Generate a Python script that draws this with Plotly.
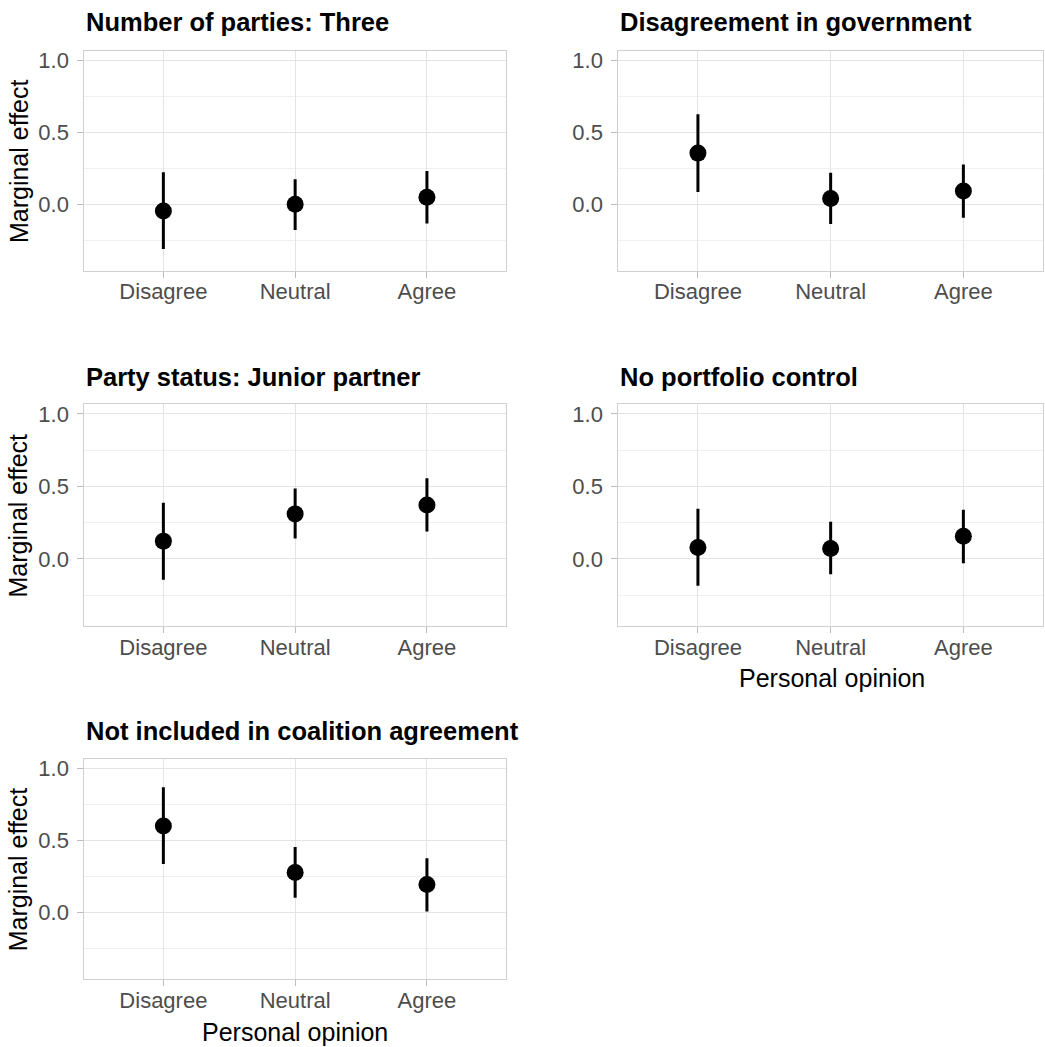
import plotly.graph_objects as go

# Categories on the x axis
opinions = ["Disagree", "Neutral", "Agree"]
opinion_pos = [1, 2, 3]

# Facet titles
panel_titles = [
    "Number of parties: Three",
    "Disagreement in government",
    "Party status: Junior partner",
    "No portfolio control",
    "Not included in coalition agreement",
]

# Estimates with lower / upper confidence bounds per facet
est_parties = [-0.048, -0.002, 0.048]
lo_parties = [-0.313, -0.180, -0.136]
hi_parties = [0.221, 0.173, 0.230]

est_disagree = [0.354, 0.039, 0.090]
lo_disagree = [0.083, -0.139, -0.095]
hi_disagree = [0.625, 0.218, 0.275]

est_junior = [0.122, 0.310, 0.372]
lo_junior = [-0.145, 0.140, 0.188]
hi_junior = [0.386, 0.485, 0.556]

est_portfolio = [0.078, 0.071, 0.156]
lo_portfolio = [-0.186, -0.106, -0.030]
hi_portfolio = [0.345, 0.255, 0.338]

est_coalition = [0.600, 0.277, 0.194]
lo_coalition = [0.335, 0.102, 0.007]
hi_coalition = [0.868, 0.453, 0.376]

y_tickvals = [0.0, 0.5, 1.0]
y_ticktext = ["0.0", "0.5", "1.0"]
y_minor = [-0.25, 0.25, 0.75]

panels = [
    (est_parties, lo_parties, hi_parties),
    (est_disagree, lo_disagree, hi_disagree),
    (est_junior, lo_junior, hi_junior),
    (est_portfolio, lo_portfolio, hi_portfolio),
    (est_coalition, lo_coalition, hi_coalition),
]

W, H = 1045, 1047
FONT = "Liberation Sans"

# Panel boxes in pixels: (left, right, top, bottom)
col_x = [(84.3, 506.0), (618.3, 1043.0)]
row_y = [(47.7, 268.7), (402.3, 625.0), (757.7, 979.3)]
title_y = [19, 375, 730]
slots = [(0, 0), (0, 1), (1, 0), (1, 1), (2, 0)]

fig = go.Figure()
annotations = []
layout_axes = {}

for i, ((est, lo, hi), (r, c)) in enumerate(zip(panels, slots)):
    n = i + 1
    xa = "x" if n == 1 else f"x{n}"
    ya = "y" if n == 1 else f"y{n}"
    fig.add_trace(go.Scatter(
        x=opinion_pos, y=est, xaxis=xa, yaxis=ya,
        mode="markers",
        marker=dict(color="black", size=17),
        error_y=dict(type="data", symmetric=False,
                     array=[h - e for h, e in zip(hi, est)],
                     arrayminus=[e - l for e, l in zip(est, lo)],
                     color="black", thickness=3, width=0),
        showlegend=False, hoverinfo="skip",
    ))
    x0, x1 = col_x[c]
    y0, y1 = row_y[r]
    xdom = [x0 / W, x1 / W]
    ydom = [1 - y1 / H, 1 - y0 / H]
    axis_common = dict(
        showline=True, linecolor="#d0d0d0", linewidth=1, mirror=True,
        ticks="outside", ticklen=6, tickcolor="#bdbdbd", tickwidth=1,
        showgrid=True, gridcolor="#e4e4e4", gridwidth=1.2,
        zeroline=False,
        tickfont=dict(family=FONT, size=22, color="#4d4d4d"),
    )
    layout_axes["xaxis" if n == 1 else f"xaxis{n}"] = dict(
        axis_common, domain=xdom, anchor=ya, range=[0.4, 3.6],
        tickmode="array", tickvals=opinion_pos, ticktext=opinions,
        ticklabelstandoff=-5,
    )
    layout_axes["yaxis" if n == 1 else f"yaxis{n}"] = dict(
        axis_common, domain=ydom, anchor=xa, range=[-0.465, 1.067],
        tickmode="array", tickvals=y_tickvals, ticktext=y_ticktext,
        ticklabelstandoff=4,
        minor=dict(tickmode="array", tickvals=y_minor, showgrid=True,
                   gridcolor="#f0f0f0", gridwidth=1),
    )
    annotations.append(dict(
        text=f"<b>{panel_titles[i]}</b>", xref="paper", yref="paper",
        x=x0 / W, y=1 - title_y[r] / H, xanchor="left", yanchor="middle",
        showarrow=False, font=dict(family=FONT, size=25.5, color="black"),
    ))
    if c == 0:
        annotations.append(dict(
            text="Marginal effect", xref="paper", yref="paper",
            x=18.3 / W, y=1 - ((y0 + y1) / 2) / H, textangle=-90,
            xanchor="center", yanchor="middle", showarrow=False,
            font=dict(family=FONT, size=25, color="black"),
        ))

# x-axis titles under the bottom panel of each column
for (cx, cy) in [(831.7, 676.7), (295.0, 1031.7)]:
    annotations.append(dict(
        text="Personal opinion", xref="paper", yref="paper",
        x=cx / W, y=1 - cy / H, xanchor="center", yanchor="middle",
        showarrow=False, font=dict(family=FONT, size=25, color="black"),
    ))

fig.update_layout(
    width=W, height=H,
    margin=dict(l=0, r=0, t=0, b=0),
    paper_bgcolor="white", plot_bgcolor="white",
    annotations=annotations,
    **layout_axes,
)

fig.write_html("out.html")
